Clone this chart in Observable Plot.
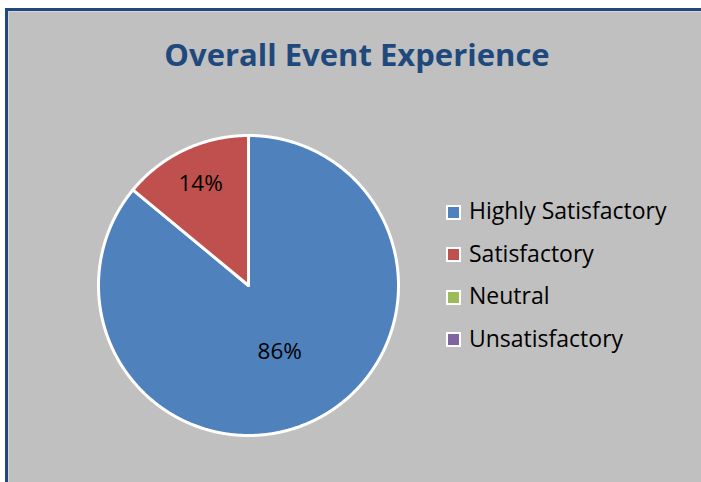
<!DOCTYPE html>
<html>
<head>
<meta charset="utf-8">
<script src="https://cdn.jsdelivr.net/npm/d3@7"></script>
<script src="https://cdn.jsdelivr.net/npm/@observablehq/plot@0.6"></script>
<style>
  html, body { margin: 0; padding: 0; background: #c0c0c0; overflow: hidden; }
  #wrap { position: relative; width: 701px; height: 482px; overflow: hidden; background: #ffffff; }
  #frame { position: absolute; left: 5px; top: 8px; right: 0; bottom: 0;
           border-left: 3px solid #1f497d; border-top: 3px solid #1f497d; border-right: none; border-bottom: none;
           background: #c0c0c0; box-sizing: border-box; }
  #inner { position: absolute; left: 8px; top: 11px; right: 0; bottom: 0;
           border-left: 1px solid #d4d4d4; border-top: 1px solid #d4d4d4; }
  #title { position: absolute; left: 0; width: 714px; top: 33px; text-align: center; white-space: nowrap;
           font-family: "Open Sans", sans-serif; font-weight: bold; font-size: 31px; color: #1f497d; }
  #chart { position: absolute; left: 0; top: 0; }
  #legend { position: absolute; left: 446px; top: 196px; font-family: "Open Sans", sans-serif; font-size: 23px; color: #000; }
  .row { display: flex; align-items: center; line-height: 28px; height: 28px; margin-bottom: 14.5px; white-space: nowrap; }
  .sw { width: 11px; height: 11px; border: 2px solid #ffffff; margin-right: 8px; margin-top: 4px; flex: none; }
</style>
</head>
<body>
<div id="wrap">
  <div id="frame"></div>
  <div id="inner"></div>
  <div id="title">Overall Event Experience</div>
  <div id="chart"></div>
  <div id="legend"></div>
</div>
<script>
const categories = ["Highly Satisfactory", "Satisfactory", "Neutral", "Unsatisfactory"];
const shares = [86, 14, 0, 0];
const labels = ["86%", "14%", "", ""];
const colors = ["#4f81bd", "#c0504d", "#9bbb59", "#8064a2"];

const data = categories.map((name, i) => ({name, value: shares[i], label: labels[i]}));
const arcs = d3.pie().sort(null).value(d => d.value)(data);

// label placement fraction of radius per slice (style)
const labelFrac = [0.49, 0.75, 0.6, 0.6];

const pts = [];
arcs.forEach(a => {
  if (a.data.value <= 0) return;
  pts.push({name: a.data.name, x: 0, y: 0});
  const n = Math.max(2, Math.ceil((a.endAngle - a.startAngle) / 0.005));
  for (let k = 0; k <= n; k++) {
    const t = a.startAngle + (a.endAngle - a.startAngle) * k / n;
    pts.push({name: a.data.name, x: Math.sin(t), y: Math.cos(t)});
  }
  pts.push({name: a.data.name, x: 0, y: 0});
});

const labelPts = arcs.filter(a => a.data.value > 0).map(a => {
  const i = categories.indexOf(a.data.name);
  const m = (a.startAngle + a.endAngle) / 2;
  return {x: Math.sin(m) * labelFrac[i], y: Math.cos(m) * labelFrac[i], text: a.data.label};
});

const plot = Plot.plot({
  width: 701,
  height: 482,
  margin: 0,
  style: {background: "transparent", overflow: "visible"},
  x: {domain: [-1, 1], range: [98, 398], axis: null},
  y: {domain: [-1, 1], range: [435, 135], axis: null},
  color: {domain: categories, range: colors},
  marks: [
    Plot.line(pts, {x: "x", y: "y", z: "name", fill: "name", stroke: "white", strokeWidth: 3, curve: "linear", strokeLinejoin: "round"}),
    Plot.text(labelPts, {x: "x", y: "y", text: "text", fill: "black", fontSize: 22.5, fontFamily: "Open Sans, sans-serif"})
  ]
});
document.getElementById("chart").appendChild(plot);

const legend = document.getElementById("legend");
categories.forEach((c, i) => {
  const row = document.createElement("div");
  row.className = "row";
  const sw = document.createElement("div");
  sw.className = "sw";
  sw.style.background = colors[i];
  const tx = document.createElement("span");
  tx.textContent = c;
  row.appendChild(sw);
  row.appendChild(tx);
  legend.appendChild(row);
});
</script>
</body>
</html>
